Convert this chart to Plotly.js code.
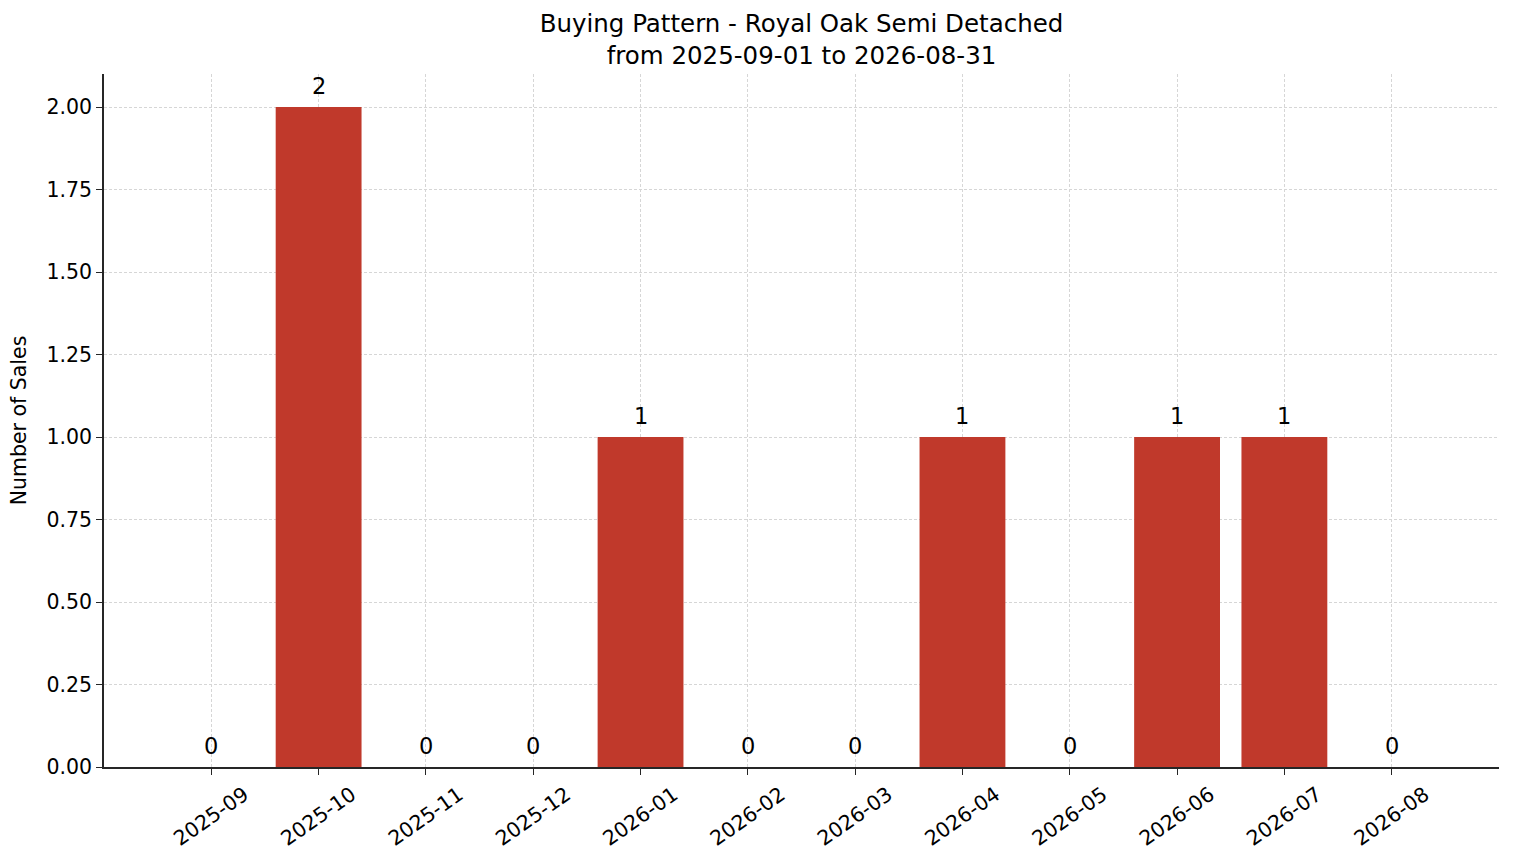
<!DOCTYPE html>
<html>
<head>
<meta charset="utf-8">
<script src="https://cdn.plot.ly/plotly-3.0.1.min.js"></script>
<style>
  html, body { margin: 0; padding: 0; background: #fff; }
  #chart { width: 1514px; height: 863px; }
</style>
</head>
<body>
<div id="chart"></div>
<script>
const months = ['2025-09', '2025-10', '2025-11', '2025-12', '2026-01', '2026-02',
                '2026-03', '2026-04', '2026-05', '2026-06', '2026-07', '2026-08'];
const sales = [0, 2, 0, 0, 1, 0, 0, 1, 0, 1, 1, 0];
const yTicks = [0, 0.25, 0.5, 0.75, 1, 1.25, 1.5, 1.75, 2];

const font = 'DejaVu Sans, sans-serif';

const trace = {
    x: months,
    y: sales,
    type: 'bar',
    width: 0.8,
    marker: { color: '#c0392b' },
    hoverinfo: 'x+y'
};

// etiquetas de valor em cima de cada barra
const labels = months.map((m, i) => ({
    x: m, y: sales[i], xref: 'x', yref: 'y',
    text: String(sales[i]), showarrow: false,
    yanchor: 'bottom', yshift: 6,
    font: { family: font, size: 22.5, color: '#000' }
}));

const layout = {
    width: 1514, height: 863,
    margin: { t: 74, b: 96, l: 104, r: 15 },
    paper_bgcolor: '#fff', plot_bgcolor: '#fff',
    font: { family: font, size: 20.5, color: '#000' },
    title: {
        text: 'Buying Pattern - Royal Oak Semi Detached<br>from 2025-09-01 to 2026-08-31',
        x: 0.5, xref: 'paper', yref: 'container', y: 1 - 32 / 863, yanchor: 'top',
        font: { family: font, size: 24.5, color: '#000' }
    },
    showlegend: false,
    bargap: 0.2,
    xaxis: {
        type: 'category',
        range: [-1, 12],
        tickangle: -35,
        ticklabelshift: 33,
        ticks: 'outside', ticklen: 6, tickwidth: 1.2, tickcolor: '#262626',
        showline: true, linecolor: '#262626', linewidth: 1.5,
        showgrid: true, gridcolor: '#d6d6d6', griddash: '3px,2px', gridwidth: 0.8,
        layer: 'above traces',
        tickfont: { family: font, size: 20.5 }
    },
    yaxis: {
        range: [0, 2.1],
        tickvals: yTicks,
        ticktext: yTicks.map(v => v.toFixed(2)),
        ticks: 'outside', ticklen: 6, tickwidth: 1.2, tickcolor: '#262626',
        showline: true, linecolor: '#262626', linewidth: 1.5,
        showgrid: true, gridcolor: '#d6d6d6', griddash: '3px,2px', gridwidth: 0.8,
        zeroline: false,
        layer: 'above traces',
        tickfont: { family: font, size: 20.5 },
        title: { text: 'Number of Sales', standoff: 14, font: { family: font, size: 20.5 } }
    },
    annotations: labels
};

Plotly.newPlot('chart', [trace], layout, { displayModeBar: false, responsive: false });
</script>
</body>
</html>
